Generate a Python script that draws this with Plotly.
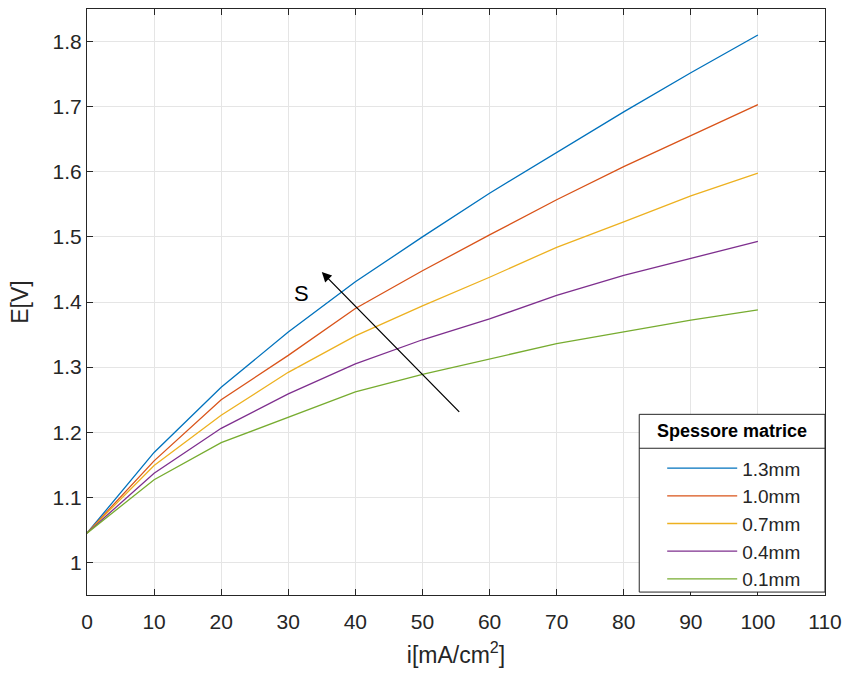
import plotly.graph_objects as go

current = [0, 10, 20, 30, 40, 50, 60, 70, 80, 90, 100]
labels = ["1.3mm", "1.0mm", "0.7mm", "0.4mm", "0.1mm"]
e_13 = [1.045, 1.169, 1.269, 1.354, 1.431, 1.500, 1.567, 1.630, 1.692, 1.752, 1.810]
e_10 = [1.045, 1.156, 1.250, 1.318, 1.390, 1.448, 1.503, 1.557, 1.608, 1.656, 1.703]
e_07 = [1.045, 1.149, 1.226, 1.292, 1.348, 1.394, 1.438, 1.484, 1.523, 1.563, 1.598]
e_04 = [1.045, 1.137, 1.206, 1.259, 1.305, 1.342, 1.374, 1.410, 1.441, 1.467, 1.493]
e_01 = [1.045, 1.127, 1.184, 1.223, 1.262, 1.289, 1.313, 1.336, 1.354, 1.372, 1.388]
series = [e_13, e_10, e_07, e_04, e_01]
colors = ["#0072BD", "#D95319", "#EDB120", "#7E2F8E", "#77AC30"]
legend_title = "Spessore matrice"

x_ticks = list(range(0, 111, 10))
y_ticks = [1.0, 1.1, 1.2, 1.3, 1.4, 1.5, 1.6, 1.7, 1.8]
y_ticktext = ["1", "1.1", "1.2", "1.3", "1.4", "1.5", "1.6", "1.7", "1.8"]

FONT = "Liberation Sans, Arial, Helvetica, sans-serif"
DARK = "#262626"

fig = go.Figure()
for lab, vals, col in zip(labels, series, colors):
    fig.add_trace(go.Scatter(x=current, y=vals, mode="lines", name=lab,
                             line=dict(color=col, width=1.3)))

axis_common = dict(
    showline=True, linecolor=DARK, linewidth=1.2, mirror="allticks",
    ticks="inside", ticklen=6, tickcolor=DARK, tickwidth=1,
    showgrid=True, gridcolor="#E5E5E5", gridwidth=1, zeroline=False,
    tickfont=dict(family=FONT, size=21, color=DARK),
)

# legend frame (paper coordinates of the plot area)
LX0, LX1, LY0, LY1, LSEP = 0.7483, 1.0, 0.005, 0.3083, 0.2504

fig.update_layout(
    width=850, height=675,
    margin=dict(l=87, r=20, t=8, b=80),
    paper_bgcolor="white", plot_bgcolor="white",
    font=dict(family=FONT, color=DARK),
    xaxis=dict(range=[0, 110], tickvals=x_ticks, ticklabelstandoff=8,
               title=dict(text="i[mA/cm<sup>2</sup>]", font=dict(family=FONT, size=23), standoff=14),
               **axis_common),
    yaxis=dict(range=[0.95, 1.85], tickvals=y_ticks, ticktext=y_ticktext,
               title=dict(text="E[V]", font=dict(family=FONT, size=23), standoff=17),
               **axis_common),
    legend=dict(
        x=0.7794, xanchor="left", y=0.2487, yanchor="top",
        bgcolor="rgba(0,0,0,0)", borderwidth=0,
        font=dict(family=FONT, size=19, color=DARK),
        tracegroupgap=0, itemwidth=70,
    ),
    shapes=[
        dict(type="rect", xref="paper", yref="paper", x0=LX0, x1=LX1, y0=LY0, y1=LY1,
             fillcolor="white", line=dict(color=DARK, width=1), layer="above"),
        dict(type="line", xref="paper", yref="paper", x0=LX0, x1=LX1, y0=LSEP, y1=LSEP,
             line=dict(color=DARK, width=1), layer="above"),
    ],
    annotations=[
        dict(x=(LX0 + LX1) / 2, y=(LY1 + LSEP) / 2, xref="paper", yref="paper",
             text="<b>" + legend_title + "</b>", showarrow=False,
             xanchor="center", yanchor="middle",
             font=dict(family=FONT, size=18, color="black")),
        dict(x=35.0, y=1.446, ax=55.7, ay=1.229, xref="x", yref="y",
             axref="x", ayref="y", showarrow=True, arrowhead=2,
             arrowsize=1.5, arrowwidth=1.3, arrowcolor="black", text=""),
        dict(x=32.0, y=1.413, xref="x", yref="y", text="S", showarrow=False,
             font=dict(family=FONT, size=22, color="black")),
    ],
)

fig.write_html("out.html")
